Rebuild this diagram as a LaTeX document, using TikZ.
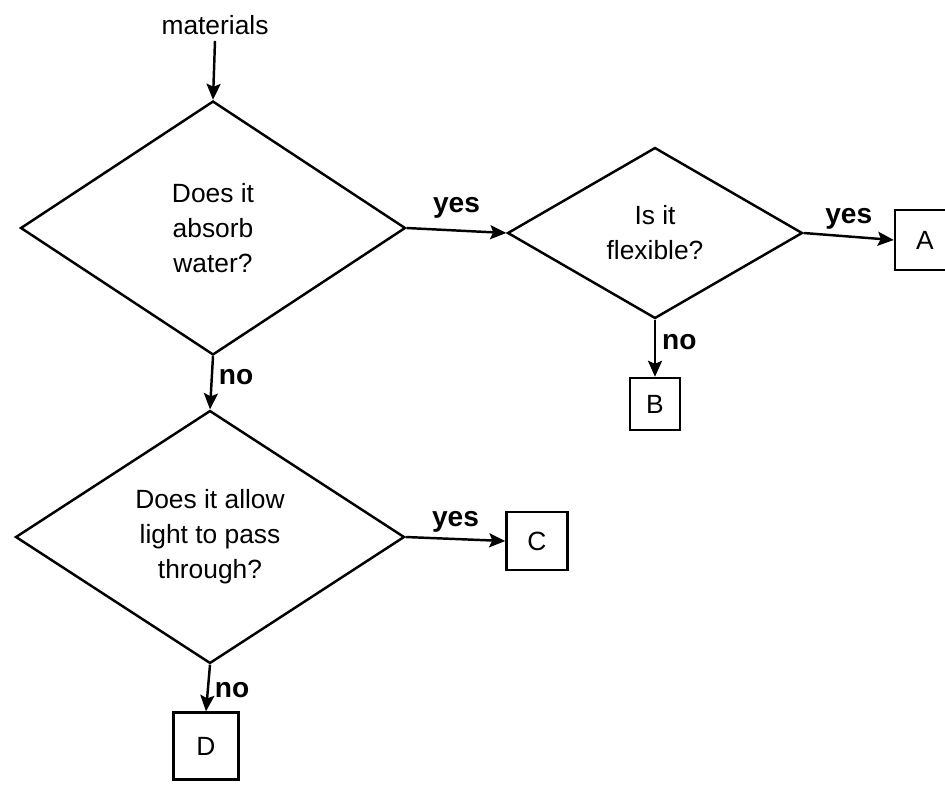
\documentclass[tikz,border=0pt]{standalone}
\usepackage{fontspec}
\setmainfont{Liberation Sans}
\usetikzlibrary{arrows.meta,shapes.geometric}

\begin{document}
\begin{tikzpicture}[x=0.02cm,y=-0.02cm,
  >={Stealth[length=3.2mm,width=2.8mm,inset=0.6mm]},
  font=\fontsize{15}{20}\selectfont]

  \tikzstyle{question}=[diamond,draw,line width=1.4pt,inner sep=0pt,align=center]
  \tikzstyle{answer}=[rectangle,draw,line width=1.4pt,inner sep=0pt]
  \tikzstyle{flow}=[->,line width=1.4pt]
  \tikzstyle{branch}=[font=\fontsize{16}{18}\selectfont\bfseries]

  \useasboundingbox (0,0) rectangle (945,785);

  % questions
  \node (materials) at (215,25) {materials};
  \node [question,minimum width=7.7cm,minimum height=5.08cm]
                     (absorb)   at (213,228) {Does it\\absorb\\water?};
  \node [question,minimum width=5.9cm,minimum height=3.42cm]
                     (flexible) at (655,233) {Is it\\flexible?};
  \node [question,minimum width=7.78cm,minimum height=5.06cm]
                     (light)    at (210,537) {Does it allow\\light to pass\\through?};

  % answers
  \node [answer,minimum width=1.2cm,minimum height=1.2cm]   (A) at (925,240) {A};
  \node [answer,minimum width=1.0cm,minimum height=1.04cm]  (B) at (655,404) {B};
  \node [answer,minimum width=1.22cm,minimum height=1.16cm] (C) at (537,541) {C};
  \node [answer,minimum width=1.3cm,minimum height=1.34cm]  (D) at (206,746) {D};

  \draw [flow] (materials.south) -- (absorb.north);
  \draw [flow] (absorb.east) -- node [branch,above=3pt] {yes} (flexible.west);
  \draw [flow] (flexible.east) -- node [branch,above] {yes} (A.west);
  \draw [flow] (flexible.south) -- node [branch,right,pos=0.4] {no} (B.north);
  \draw [flow] (absorb.south) -- node [branch,right,pos=0.4] {no} (light.north);
  \draw [flow] (light.east) -- node [branch,above] {yes} (C.west);
  \draw [flow] (light.south) -- node [branch,right,pos=0.55] {no} (D.north);
\end{tikzpicture}
\end{document}
